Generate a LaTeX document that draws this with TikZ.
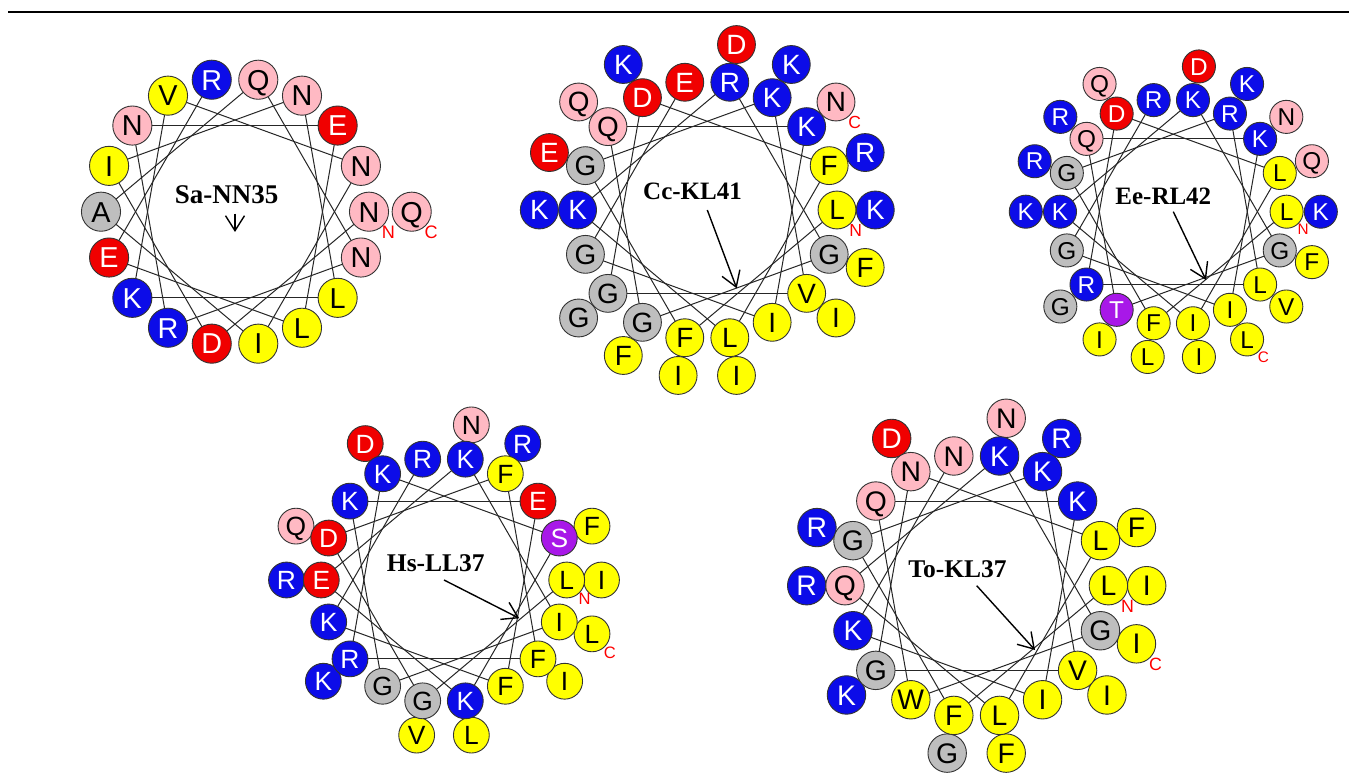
\documentclass[tikz,border=0pt]{standalone}
\usepackage{fontspec}
\setmainfont{Liberation Serif}
\newfontfamily\ressans{Liberation Sans}
\usetikzlibrary{arrows.meta}
\definecolor{cblue}{RGB}{12,12,232}
\definecolor{cred}{RGB}{240,0,0}
\definecolor{cpink}{RGB}{255,185,195}
\definecolor{cyel}{RGB}{255,255,0}
\definecolor{cgrey}{RGB}{190,190,190}
\definecolor{cpurp}{RGB}{168,24,232}
\colorlet{fK}{cblue}\colorlet{fR}{cblue}
\colorlet{fD}{cred}\colorlet{fE}{cred}
\colorlet{fN}{cpink}\colorlet{fQ}{cpink}
\colorlet{fS}{cpurp}\colorlet{fT}{cpurp}
\colorlet{fG}{cgrey}\colorlet{fA}{cgrey}
\colorlet{fF}{cyel}\colorlet{fI}{cyel}\colorlet{fL}{cyel}\colorlet{fV}{cyel}\colorlet{fW}{cyel}
\colorlet{tK}{white}\colorlet{tR}{white}\colorlet{tD}{white}\colorlet{tE}{white}
\colorlet{tS}{white}\colorlet{tT}{white}
\colorlet{tN}{black}\colorlet{tQ}{black}\colorlet{tG}{black}\colorlet{tA}{black}
\colorlet{tF}{black}\colorlet{tI}{black}\colorlet{tL}{black}\colorlet{tV}{black}\colorlet{tW}{black}
\tikzset{
  res/.style={circle, draw=black!80, line width=0.9pt, inner sep=0pt, text depth=0pt},
  helixline/.style={draw=black!85, line width=1pt},
  termlab/.style={text=red, inner sep=0pt, text depth=0pt},
  wname/.style={inner sep=0pt, anchor=base, font=\bfseries},
  moment/.style={draw=black, line width=1.4pt, -{Straight Barb[length=15pt,width=19pt]}}
}
% #1 id, #2 cx, #3 cy, #4 inner radius, #5 outer radius, #6 inner letters, #7 outer angle/letter, #8 C-terminal node
\newcommand{\hwheel}[8]{%
  \pgfmathsetmacro\dc{0.292*#4}%
  \pgfmathsetmacro\fs{0.215*#4}%
  \pgfmathsetmacro\th{0.716*\fs}%
  \pgfmathsetmacro\lx{0.145*#4}%
  \pgfmathsetmacro\ly{0.155*#4}%
  \pgfmathsetmacro\lf{0.135*#4}%
  \coordinate (#1c) at (#2,#3);
  \foreach \L [count=\k from 0] in {#6} {
    \pgfmathsetmacro\ang{20*\k}
    \coordinate (#1p\k) at ({#2+#4*cos(\ang)},{#3-#4*sin(\ang)});
  }
  \foreach \j in {0,...,16} {
    \pgfmathtruncatemacro\pa{mod(90-5*\j,18)}
    \pgfmathtruncatemacro\pb{mod(85-5*\j,18)}
    \draw[helixline] (#1p\pa) -- (#1p\pb);
  }
  \foreach \a/\L in {#7} {
    \node[res, minimum size=\dc pt, fill=f\L, text=t\L, text height=\th pt,
      font=\ressans\fontsize{\fs pt}{\fs pt}\selectfont]
      (#1o\a) at ({#2+#5*cos(\a)},{#3-#5*sin(\a)}) {\L};
  }
  \foreach \L [count=\k from 0] in {#6} {
    \node[res, minimum size=\dc pt, fill=f\L, text=t\L, text height=\th pt,
      font=\ressans\fontsize{\fs pt}{\fs pt}\selectfont]
      (#1r\k) at (#1p\k) {\L};
  }
  \node[termlab, font=\ressans\fontsize{\lf pt}{\lf pt}\selectfont]
    (#1Nlab) at ([xshift=\lx pt, yshift=-\ly pt]#1r0.center) {N};
  \node[termlab, font=\ressans\fontsize{\lf pt}{\lf pt}\selectfont]
    (#1Clab) at ([xshift=\lx pt, yshift=-\ly pt]#1#8.center) {C};
}
\begin{document}
\begin{tikzpicture}[x=1pt, y=-1pt]
\useasboundingbox (0,0) rectangle (1355,783);
\fill[white] (0,0) rectangle (1355,783);
\coordinate (ruleL) at (8,12.5);
\coordinate (ruleR) at (1349,12.5);
\draw[line width=2pt] (ruleL) -- (ruleR);

\hwheel{Sa}{235}{211.7}{134}{176.7}{N,N,E,N,Q,R,V,N,I,A,E,K,R,D,I,L,L,N}{0/Q}{o0}
\hwheel{Cc}{707.3}{210}{129.7}{168}{L,F,K,K,R,E,D,Q,G,K,G,G,G,F,L,I,V,G}{0/K,20/R,40/N,60/K,80/D,120/K,140/Q,160/E,180/K,220/G,240/F,260/I,280/I,320/I,340/F}{o40}
\hwheel{Ee}{1173.3}{211.7}{113.3}{147.5}{L,L,K,R,K,R,D,Q,G,K,G,R,T,F,I,I,L,G}{0/K,20/Q,40/N,60/K,80/D,120/Q,140/R,160/R,180/K,220/G,240/I,260/L,280/I,300/L,320/V,340/F}{o300}
\hwheel{Hs}{444}{580}{122.7}{157.5}{L,S,E,F,K,R,K,K,D,E,K,R,G,G,K,F,F,I}{0/I,20/F,60/R,80/N,120/D,160/Q,180/R,220/K,260/V,280/L,320/I,340/L}{o340}
\hwheel{To}{976.7}{585.7}{131.7}{170}{L,L,K,K,K,N,N,Q,G,Q,K,G,W,F,L,I,V,G}{0/I,20/F,60/R,80/N,120/D,160/R,180/R,220/K,260/G,280/F,320/I,340/I}{o340}

\node[wname, font=\bfseries\fontsize{27}{27}\selectfont] (Saname) at (226.7,204) {Sa-NN35};
\node[wname, font=\bfseries\fontsize{25}{25}\selectfont] (Ccname) at (692.5,200) {Cc-KL41};
\node[wname, font=\bfseries\fontsize{25}{25}\selectfont] (Eename) at (1163.3,205) {Ee-RL42};
\node[wname, font=\bfseries\fontsize{25.5}{25.5}\selectfont] (Hsname) at (435.8,571.7) {Hs-LL37};
\node[wname, font=\bfseries\fontsize{25.5}{25.5}\selectfont] (Toname) at (957.5,577.3) {To-KL37};

\coordinate (Satip) at (235,232);
\coordinate (Cctip) at (736.7,288.3);
\coordinate (Eetip) at (1206,280);
\coordinate (Hstip) at (519.3,618.3);
\coordinate (Totip) at (1035,650);
\draw[moment] ([yshift=-2pt]Sac) -- (Satip);
\draw[moment] (Ccc) -- (Cctip);
\draw[moment] (Eec) -- (Eetip);
\draw[moment] (Hsc) -- (Hstip);
\draw[moment] (Toc) -- (Totip);
\end{tikzpicture}
\end{document}
